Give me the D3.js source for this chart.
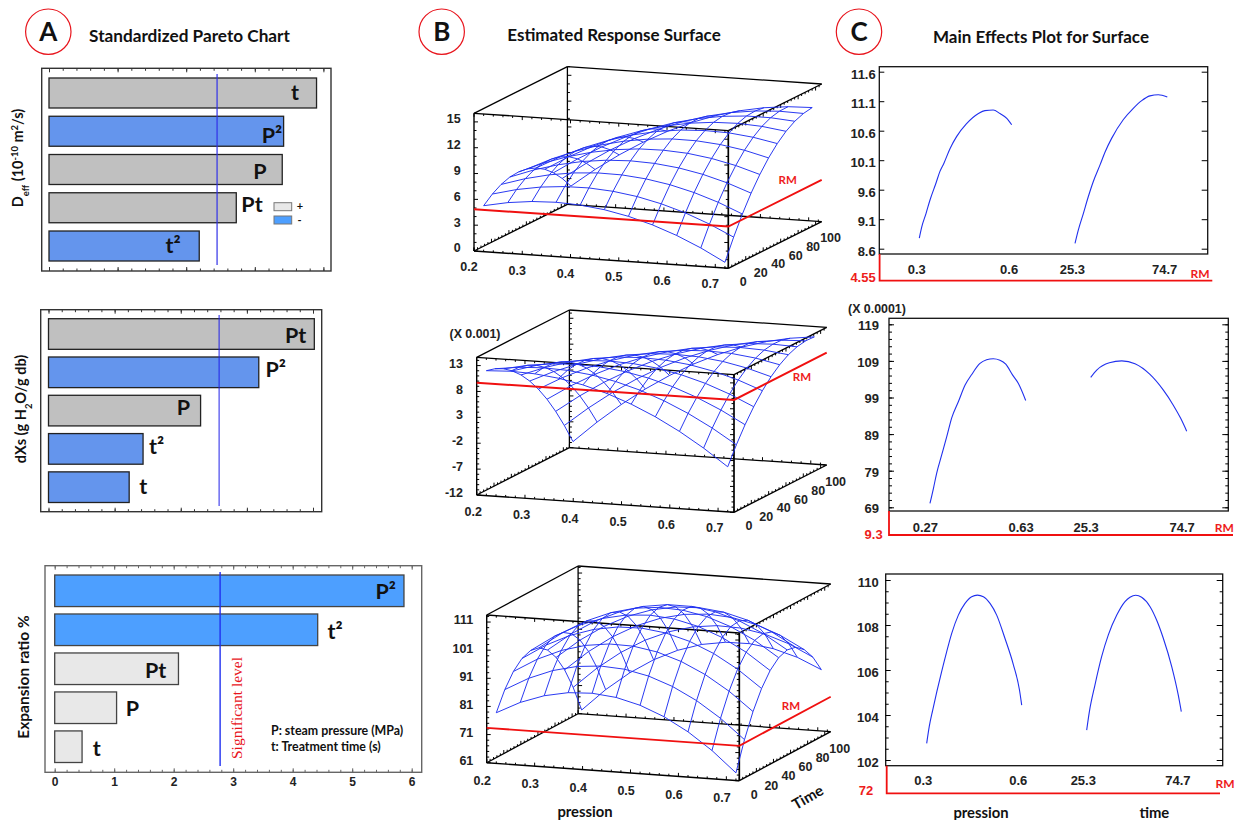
<!DOCTYPE html>
<html><head><meta charset="utf-8">
<style>html,body{margin:0;padding:0;background:#fff}svg{display:block}</style>
<script src="https://cdnjs.cloudflare.com/ajax/libs/d3/7.8.5/d3.min.js"></script>
</head><body><svg id="c" width="1240" height="820"></svg>
<script>
// ---------- Pareto data (standardized effects) ----------
const paretoTermsDeff=["t","P²","P","Pt","t²"];
const paretoValuesDeff=[3.90,3.42,3.40,2.73,2.19];
const paretoSignsDeff=["+","-","+","+","-"];
const paretoSigDeff=2.45;
const paretoTermsDXs=["Pt","P²","P","t²","t"];
const paretoValuesDXs=[4.02,3.18,2.30,1.43,1.22];
const paretoSignsDXs=["+","-","+","-","-"];
const paretoSigDXs=2.58;
const paretoTermsExp=["P²","t²","Pt","P","t"];
const paretoValuesExp=[5.87,4.42,2.08,1.04,0.46];
const paretoSignsExp=["-","-","+","+","+"];
const paretoSigExp=2.78;
// ---------- Response surface grid (rows: time, columns: pressure) ----------
const gridPressure=[0.22,0.27,0.32,0.37,0.42,0.47,0.52,0.57,0.62,0.67,0.72];
const gridTime=[0,10,20,30,40,50,60,70,80,90,100];
const surfaceDeff=[
[5.34,5.89,6.21,6.31,6.18,5.83,5.25,4.44,3.41,2.15,0.67],
[6.19,6.90,7.38,7.63,7.66,7.46,7.04,6.39,5.52,4.41,3.09],
[6.80,7.66,8.30,8.71,8.90,8.86,8.59,8.10,7.38,6.44,5.27],
[7.15,8.17,8.96,9.53,9.87,9.99,9.88,9.55,8.99,8.20,7.19],
[7.24,8.42,9.37,10.09,10.59,10.87,10.91,10.74,10.33,9.70,8.85],
[7.09,8.42,9.53,10.41,11.07,11.50,11.71,11.69,11.44,10.97,10.27],
[6.68,8.17,9.44,10.47,11.29,11.88,12.24,12.37,12.29,11.97,11.43],
[6.03,7.68,9.10,10.30,11.27,12.01,12.53,12.82,12.89,12.73,12.35],
[5.12,6.92,8.50,9.86,10.98,11.89,12.56,13.01,13.24,13.23,13.01],
[3.95,5.91,7.65,9.16,10.44,11.50,12.33,12.94,13.32,13.48,13.41],
[2.56,4.68,6.57,8.24,9.68,10.90,11.89,12.65,13.19,13.50,13.59]];
const surfaceDXs=[
[12.14,12.35,12.17,11.61,10.65,9.30,7.56,5.43,2.92,0.01,-3.29],
[11.66,12.26,12.47,12.29,11.72,10.76,9.41,7.67,5.54,3.02,0.11],
[10.80,11.79,12.39,12.59,12.41,11.84,10.88,9.53,7.78,5.65,3.13],
[9.54,10.92,11.90,12.50,12.70,12.52,11.95,10.98,9.63,7.88,5.75],
[7.90,9.66,11.04,12.02,12.62,12.82,12.63,12.06,11.09,9.74,7.99],
[5.87,8.02,9.78,11.16,12.14,12.73,12.93,12.74,12.17,11.20,9.84],
[3.45,5.99,8.14,9.90,11.27,12.25,12.84,13.04,12.85,12.27,11.30],
[0.65,3.58,6.12,8.26,10.02,11.39,12.37,12.96,13.15,12.96,12.38],
[-2.55,0.77,3.69,6.23,8.37,10.13,11.50,12.47,13.06,13.25,13.06],
[-6.13,-2.43,0.89,3.81,6.35,8.49,10.24,11.61,12.58,13.17,13.36],
[-10.10,-6.01,-2.31,1.01,3.93,6.46,8.60,10.35,11.72,12.69,13.27]];
const surfaceExp=[
[79.00,83.28,86.26,87.96,88.36,87.48,85.30,81.84,77.08,71.04,63.70],
[85.61,90.24,93.58,95.64,96.40,95.87,94.05,90.94,86.55,80.86,73.88],
[90.40,95.39,99.09,101.50,102.62,102.45,100.98,98.23,94.19,88.86,82.24],
[93.39,98.74,102.79,105.56,107.03,107.22,106.12,103.72,100.04,95.06,88.80],
[94.58,100.28,104.70,107.82,109.65,110.20,109.45,107.41,104.08,99.47,93.56],
[93.95,100.01,104.78,108.26,110.45,111.35,110.96,109.28,106.31,102.05,96.50],
[91.52,97.94,103.06,106.90,109.45,110.71,110.67,109.35,106.74,102.83,97.64],
[87.27,94.04,99.53,103.72,106.63,108.24,108.56,107.60,105.34,101.80,96.96],
[81.22,88.35,94.19,98.74,102.00,103.98,104.66,104.05,102.15,98.96,94.48],
[73.37,80.86,87.06,91.96,95.58,97.91,98.95,98.70,97.15,94.32,90.20],
[63.70,71.55,78.10,83.37,87.34,90.03,91.42,91.53,90.34,87.87,84.10]];
const rmLevelDeff=4.85, rmLevelDXs=9.7, rmLevelExp=73.4;
const pressureTicks=[0.2,0.3,0.4,0.5,0.6,0.7];
const timeTicks=[0,20,40,60,80,100];
const zTicksDeff=[0,3,6,9,12,15];
const zTicksDXs=[-12,-7,-2,3,8,13];
const zTicksExp=[61,71,81,91,101,111];
// ---------- Main effects curves ----------
const mainDeffPx=[.3,.308,.322,.335,.354,.367,.380,.400,.421,.452,.492,.513,.540,.562,.584,.6];
const mainDeffPy=[8.78,8.97,9.20,9.43,9.71,9.91,10.05,10.30,10.50,10.71,10.89,10.94,10.95,10.89,10.81,10.70];
const mainDeffTx=[25.3,27.1,29.8,32.4,35.1,38.7,41.4,44.9,51.2,56.5,61.0,65.4,69.9,74.7];
const mainDeffTy=[8.69,8.92,9.20,9.48,9.74,10.02,10.24,10.47,10.79,10.98,11.11,11.19,11.21,11.17];
const mainDXsPx=[.27,.283,.295,.314,.333,.352,.377,.402,.427,.458,.483,.508,.533,.555,.581,.602,.63];
const mainDXsPy=[70.1,74.2,78.3,83.3,88.3,93.5,97.9,102.4,105.3,108.3,109.3,109.6,109.2,108.1,105.1,102.9,98.2];
const mainDXsTx=[25.3,28.4,34.9,41.3,48.1,55.8,62.7,67.8,71.6,74.7];
const mainDXsTy=[104.5,106.5,108.5,109.0,108.2,105.3,101.0,96.9,93.3,89.8];
const mainExpPx=[.3,.308,.319,.332,.347,.363,.379,.4,.421,.442,.46,.479,.5,.521,.547,.574,.593,.6];
const mainExpPy=[102.74,103.48,104.22,105.04,105.92,106.81,107.63,108.44,108.96,109.26,109.33,109.26,108.96,108.44,107.41,106.22,105.11,104.44];
const mainExpTx=[25.3,26.7,29.6,33.1,36.6,41.0,45.3,47.9,50.9,54.0,58.4,61.8,65.3,69.7,73.1,74.7];
const mainExpTy=[103.33,104.15,105.33,106.59,107.56,108.44,109.04,109.23,109.32,109.23,108.81,108.22,107.41,106.15,104.89,104.15];
const mainTicksDeff=[8.6,9.1,9.6,10.1,10.6,11.1,11.6];
const mainTicksDXs=[69,79,89,99,109,119];
const mainTicksExp=[102,104,106,108,110];

// ---------- Drawing ----------
const svg=d3.select("#c");
const CAL="Lato, 'Open Sans', sans-serif", ARI="'Liberation Sans', Arial, sans-serif";
function txt(x,y,s,o={}){
  const t=svg.append("text").attr("x",x).attr("y",y).attr("dy","0.35em").text(s)
   .attr("font-family",o.f||CAL).attr("font-weight",o.w||"bold").attr("font-size",o.s||14)
   .attr("fill",o.c||"#111").attr("text-anchor",o.a||"middle");
  if(o.r!=null)t.attr("transform",`rotate(${o.r} ${x} ${y})`);
  return t;
}
// headers
[[48.3,31.7,"A"],[441.7,31.7,"B"],[859,31.7,"C"]].forEach(([x,y,s])=>{
  svg.append("circle").attr("cx",x).attr("cy",y).attr("r",22.7).attr("fill","#fff").attr("stroke","#e8141c").attr("stroke-width",1.2);
  txt(x,y,s,{s:26,w:"bold"});
});
txt(189.5,36,"Standardized Pareto Chart",{s:17.2});
txt(614,35.5,"Estimated Response Surface",{s:17});
txt(1041,37,"Main Effects Plot for Surface",{s:17});

function pareto(c){
  const g=svg.append("g");
  const x=d3.scaleLinear().domain(c.dom).range(c.xr);
  const y=d3.scaleBand().domain(c.terms).range(c.yr).paddingInner(c.pad);
  g.selectAll("rect.b").data(c.terms).join("rect").attr("class","b")
    .attr("x",x(0)).attr("y",d=>y(d)).attr("height",y.bandwidth())
    .attr("width",(d,i)=>x(c.vals[i])-x(0))
    .attr("fill",(d,i)=>c.signs[i]==="+"?c.gray:c.blue)
    .attr("stroke",c.bs).attr("stroke-width",1.3);
  g.append("rect").attr("x",c.fx[0]).attr("y",c.fy[0]).attr("width",c.fx[1]-c.fx[0]).attr("height",c.fy[1]-c.fy[0])
    .attr("fill","none").attr("stroke",c.fs).attr("stroke-width",1.4);
  const ints=d3.range(c.dom[0],c.dom[1]+.001,1), mins=d3.range(c.dom[0],c.dom[1]+.001,.2);
  [[d3.axisBottom,c.fy[1],ints,-4],[d3.axisBottom,c.fy[1],mins,-2.5],[d3.axisTop,c.fy[0],ints,-4],[d3.axisTop,c.fy[0],mins,-2.5]].forEach(([ax,yy,tv,ts])=>{
    const a=g.append("g").attr("transform",`translate(0,${yy})`)
      .call(ax(x).tickValues(tv).tickSize(ts).tickSizeOuter(0).tickFormat(""));
    a.select(".domain").remove();
    a.selectAll("line").attr("stroke",c.fs);
  });
  if(c.showLabels){
    const a=g.append("g").attr("transform",`translate(0,${c.fy[1]})`)
      .call(d3.axisBottom(x).tickValues(ints).tickSize(0).tickPadding(5).tickFormat(d3.format("d")));
    a.select(".domain").remove();
    a.selectAll("text").attr("font-family",ARI).attr("font-weight","bold").attr("font-size",12).attr("fill","#222");
  }
  g.append("line").attr("x1",x(c.sig)).attr("x2",x(c.sig)).attr("y1",c.sy[0]).attr("y2",c.sy[1])
    .attr("stroke",c.sc).attr("stroke-width",c.sw);
  c.terms.forEach((t,i)=>txt(c.lx[i],c.ly[i],t,{s:21.5,w:"bold"}));
}
pareto({terms:paretoTermsDeff,vals:paretoValuesDeff,signs:paretoSignsDeff,sig:paretoSigDeff,dom:[0,4],xr:[49,323.4],yr:[78,261],pad:.216,
  fx:[41.7,331],fy:[68.3,271],sy:[74,265],gray:"#c0c0c0",blue:"#6495ed",bs:"#222",fs:"#333",sc:"#3030e8",sw:1.2,
  lx:[295,272,260,252,173],ly:[92,135,171,204,245]});
pareto({terms:paretoTermsDXs,vals:paretoValuesDXs,signs:paretoSignsDXs,sig:paretoSigDXs,dom:[0,4],xr:[48.5,313],yr:[318.7,502.5],pad:.2,
  fx:[40.7,321.7],fy:[309.7,511.7],sy:[315,506],gray:"#c0c0c0",blue:"#6495ed",bs:"#222",fs:"#333",sc:"#2020e8",sw:1,
  lx:[295.7,275.7,183.3,156.7,143.3],ly:[335,369,407.7,446.7,486.7]});
pareto({terms:paretoTermsExp,vals:paretoValuesExp,signs:paretoSignsExp,sig:paretoSigExp,dom:[0,6],xr:[54.7,411.7],yr:[575,762.5],pad:.19,
  fx:[45,421.7],fy:[565.7,772.3],sy:[572,766],gray:"#e8e8e8",blue:"#4d9fff",bs:"#444",fs:"#666",sc:"#2030f0",sw:1.4,showLabels:true,
  lx:[385.7,335,155.7,132.3,96.7],ly:[591.7,631,670,708.3,748.3]});

// Pareto side labels
function rotLabel(x,y,parts,size){
  const t=svg.append("text").attr("transform",`translate(${x},${y}) rotate(-90)`).attr("text-anchor","middle")
    .attr("font-family",CAL).attr("font-weight","bold").attr("font-size",size).attr("fill","#111");
  parts.forEach(([s,sh])=>{
    const ts=t.append("tspan").text(s);
    if(sh){ts.attr("font-size",size*.65).attr("baseline-shift",sh);}
  });
}
rotLabel(23,158,[["D"],["eff","sub"],[" (10"],["-10","super"],[" m"],["2","super"],["/s)"]],14.5);
rotLabel(26,409,[["dXs (g H"],["2","sub"],["O/g db)"]],14.5);
rotLabel(29,677,[["Expansion ratio %"]],15.5);

// legend + notes
svg.append("rect").attr("x",274).attr("y",202.7).attr("width",17.7).attr("height",8).attr("fill","#e8e8e8").attr("stroke","#777");
svg.append("rect").attr("x",274).attr("y",216).attr("width",17.7).attr("height",8).attr("fill","#4d9fff").attr("stroke","#777");
txt(300,206,"+",{s:11});txt(299.5,220,"-",{s:11});
txt(271,731,"P: steam pressure (MPa)",{s:12.4,a:"start"});
txt(271,746.7,"t: Treatment time (s)",{s:12.4,a:"start"});
txt(236.7,708,"Significant level",{s:15.5,f:"'Liberation Serif', serif",w:"normal",c:"#e8141c",r:-90});

// 3D surfaces
function surface(c){
  const g=svg.append("g");
  const A=d3.scaleLinear().domain(c.pd).range([0,1]), B=d3.scaleLinear().domain(c.td).range([0,1]), C=d3.scaleLinear().domain(c.zd).range([0,1]);
  const pr=(p,t,z)=>[c.O[0]+c.ex[0]*A(p)+c.ey[0]*B(t), c.O[1]+c.ex[1]*A(p)+c.ey[1]*B(t)-c.ez*C(z)];
  const ln=d3.line();
  const [p0,p1]=c.pd,[t0,t1]=c.td,[z0,z1]=c.zd;
  const edge=(a,b,w)=>g.append("path").attr("d",ln([a,b])).attr("stroke","#000").attr("stroke-width",w).attr("fill","none");
  [[p0,t1,z0,p1,t1,z0],[p0,t0,z0,p0,t1,z0],[p0,t1,z0,p0,t1,z1],[p0,t1,z1,p1,t1,z1],[p0,t0,z1,p0,t1,z1],[p1,t0,z1,p1,t1,z1],[p0,t0,z1,p1,t0,z1]]
    .forEach(e=>edge(pr(e[0],e[1],e[2]),pr(e[3],e[4],e[5]),1.3));
  [[p0,t0,z0,p1,t0,z0],[p1,t0,z0,p1,t1,z0],[p0,t0,z0,p0,t0,z1]].forEach(e=>edge(pr(e[0],e[1],e[2]),pr(e[3],e[4],e[5]),1.4));
  edge(pr(p1,t0,z0),pr(p1,t0,z1),1.7);
  const tick=(pt,dx,dy,w)=>g.append("path").attr("d",ln([pt,[pt[0]+dx,pt[1]+dy]])).attr("stroke","#000").attr("stroke-width",w||1).attr("fill","none");
  d3.range(z0,z1+1e-6,c.zm).forEach(z=>{
    const major=c.zt.some(v=>Math.abs(v-z)<1e-6),l=major?4:2.5;
    tick(pr(p0,t0,z),l,0);tick(pr(p0,t1,z),l,0);tick(pr(p1,t0,z),-l,0);
  });
  d3.range(.2,p1,.02).forEach((p,i)=>{const l=i%5===0?3.5:2;tick(pr(p,t0,z0),0,-l);tick(pr(p,t1,z0),0,-l);tick(pr(p,t0,z1),0,l);});
  d3.range(0,t1,4).forEach((t,i)=>{const l=i%5===0?3.5:2;tick(pr(p1,t,z0),0,-l);tick(pr(p0,t,z0),0,-l);tick(pr(p1,t,z1),0,l);});
  const mesh=g.append("g").attr("fill","none").attr("stroke","#1f2ff0").attr("stroke-width",.95);
  c.data.forEach((row,j)=>mesh.append("path").attr("d",ln(row.map((z,i)=>pr(gridPressure[i],gridTime[j],z)))));
  gridPressure.forEach((p,i)=>mesh.append("path").attr("d",ln(gridTime.map((t,j)=>pr(p,t,c.data[j][i])))));
  g.append("path").attr("d",ln([pr(p0,t0,c.rm),pr(p1,t0,c.rm),pr(p1,t1,c.rm)])).attr("stroke","#f01010").attr("stroke-width",c.rw).attr("fill","none");
  txt(c.rmt[0],c.rmt[1],"RM",{s:11.5,c:"#ee1c1c"});
  pressureTicks.forEach(p=>{const q=pr(p,t0,z0);txt(q[0]+c.pl[0],q[1]+c.pl[1],d3.format(".1f")(p),{f:ARI,s:12.5,c:"#222"});});
  timeTicks.forEach(t=>{const q=pr(p1,t,z0);txt(q[0]+c.tl[0],q[1]+c.tl[1],t,{f:ARI,s:12.5,c:"#222"});});
  c.zt.forEach(z=>{const q=pr(p0,t0,z);txt(c.zx,q[1]+c.zo,z,{f:ARI,s:12.5,a:"end",c:"#222"});});
}
surface({data:surfaceDeff,rm:rmLevelDeff,pd:[.2,.727],td:[0,107],zd:[0,16],zt:zTicksDeff,zm:1,
  O:[474,251],ex:[254.3,17.3],ey:[93.4,-46.6],ez:137.7,pl:[-5,16],tl:[15,13],zx:460.7,zo:-3,rmt:[787.7,180],rw:2});
surface({data:surfaceDXs,rm:rmLevelDXs,pd:[.2,.733],td:[0,107],zd:[-12,14.6],zt:zTicksDXs,zm:1,
  O:[476.7,495],ex:[257.3,17.3],ey:[92.7,-47.3],ez:137.7,pl:[-3.4,16.7],tl:[15,13.4],zx:463,zo:-2.3,rmt:[802,377],rw:2});
surface({data:surfaceExp,rm:rmLevelExp,pd:[.2,.727],td:[0,107],zd:[61,113.5],zt:zTicksExp,zm:2,
  O:[486.7,762.7],ex:[252.6,18],ey:[91.4,-49],ez:147.7,pl:[-4.4,18],tl:[15,13.6],zx:473.3,zo:-2,rmt:[791,705.7],rw:1.8});
txt(475,333.3,"(X 0.001)",{f:ARI,s:12.4,c:"#222"});
txt(585,811.7,"pression",{s:14.8});
txt(807.7,797.3,"Time",{s:15,r:-30});

// Main effects
function mainPlot(c){
  const g=svg.append("g");
  const y=d3.scaleLinear().domain(c.yd).range(c.yr);
  const xp=d3.scaleLinear().domain(c.pd).range(c.pr), xt=d3.scaleLinear().domain(c.td).range(c.tr);
  g.append("rect").attr("x",c.fx[0]).attr("y",c.fy[0]).attr("width",c.fx[1]-c.fx[0]).attr("height",c.fy[1]-c.fy[0]).attr("fill","none").attr("stroke","#111").attr("stroke-width",1.3);
  const fmt=v=>c.fmt(v);
  const L=g.append("g").attr("transform",`translate(${c.fx[0]},0)`).call(d3.axisLeft(y).tickValues(c.ticks).tickSize(-5).tickSizeOuter(0).tickPadding(c.pad).tickFormat(fmt));
  L.select(".domain").remove();
  L.selectAll("text").attr("font-family",ARI).attr("font-weight","bold").attr("font-size",13).attr("fill","#222").attr("dy",c.dy);
  const R=g.append("g").attr("transform",`translate(${c.fx[1]},0)`).call(d3.axisRight(y).tickValues(c.ticks).tickSize(-6).tickSizeOuter(0).tickFormat(""));
  R.select(".domain").remove();
  if(c.minor){
    [[d3.axisLeft,c.fx[0],-3],[d3.axisRight,c.fx[1],-3]].forEach(([ax,xx,s])=>{
      const m=g.append("g").attr("transform",`translate(${xx},0)`).call(ax(y).tickValues(d3.range(c.yd[0],c.yd[1]+1e-6,c.minor)).tickSize(s).tickSizeOuter(0).tickFormat(""));
      m.select(".domain").remove();
    });
  }
  const pl=d3.line().curve(d3.curveMonotoneX);
  g.append("path").attr("d",pl(c.px.map((v,i)=>[xp(v),y(c.py[i])]))).attr("fill","none").attr("stroke","#2030ee").attr("stroke-width",1.1);
  g.append("path").attr("d",pl(c.tx.map((v,i)=>[xt(v),y(c.ty[i])]))).attr("fill","none").attr("stroke","#2030ee").attr("stroke-width",1.1);
  c.pd.forEach(v=>txt(xp(v)+c.lo,c.ly,v,{f:ARI,s:13,c:"#222"}));
  c.td.forEach(v=>txt(xt(v)+c.lo,c.ly,v,{f:ARI,s:13,c:"#222"}));
  g.append("path").attr("d",d3.line()([[c.rx,c.fy[1]],[c.rx,c.rb],[c.re,c.rb]])).attr("fill","none").attr("stroke","#f01010").attr("stroke-width",1.8);
  txt(c.vx,c.vy,c.rmv,{f:ARI,s:13,a:"end",c:"#ee1c1c"});
  txt(c.rmx,c.rmy,"RM",{s:12,c:"#ee1c1c"});
}
mainPlot({yd:[8.6,11.6],yr:[248.7,71.7],ticks:mainTicksDeff,fmt:d3.format(".1f"),fx:[879.3,1207.7],fy:[66.7,254],pad:3.6,dy:"0.5em",
  pd:[.3,.6],pr:[919.3,1011.7],td:[25.3,74.7],tr:[1075,1167.3],px:mainDeffPx,py:mainDeffPy,tx:mainDeffTx,ty:mainDeffTy,lo:-2.6,ly:269.3,
  rx:879.6,rb:280.7,re:1212.3,rmv:"4.55",vx:875.7,vy:277,rmx:1200,rmy:274});
mainPlot({yd:[69,119],yr:[507.3,324.3],ticks:mainTicksDXs,fmt:d3.format("d"),minor:2,fx:[889,1228.3],fy:[318.3,511],pad:10,dy:"0.42em",
  pd:[.27,.63],pr:[930,1025.7],td:[25.3,74.7],tr:[1090.7,1186.7],px:mainDXsPx,py:mainDXsPy,tx:mainDXsTx,ty:mainDXsTy,lo:-4.6,ly:527.7,
  rx:889,rb:535,re:1233,rmv:"9.3",vx:882.7,vy:534,rmx:1224.3,rmy:527.3});
mainPlot({yd:[102,110],yr:[760,580],ticks:mainTicksExp,fmt:d3.format("d"),minor:.5,fx:[885.7,1222.7],fy:[574,765.7],pad:7,dy:"0.5em",
  pd:[.3,.6],pr:[926.7,1021.7],td:[25.3,74.7],tr:[1086.7,1181.3],px:mainExpPx,py:mainExpPy,tx:mainExpTx,ty:mainExpTy,lo:-3.4,ly:780.7,
  rx:886.7,rb:793.3,re:1220,rmv:"72",vx:873.3,vy:790.7,rmx:1225,rmy:784});
txt(848,309,"(X 0.0001)",{f:ARI,s:12.4,a:"start",c:"#222"});
txt(981,812.7,"pression",{s:14.8});
txt(1154.3,812.7,"time",{s:14.8});
</script></body></html>
